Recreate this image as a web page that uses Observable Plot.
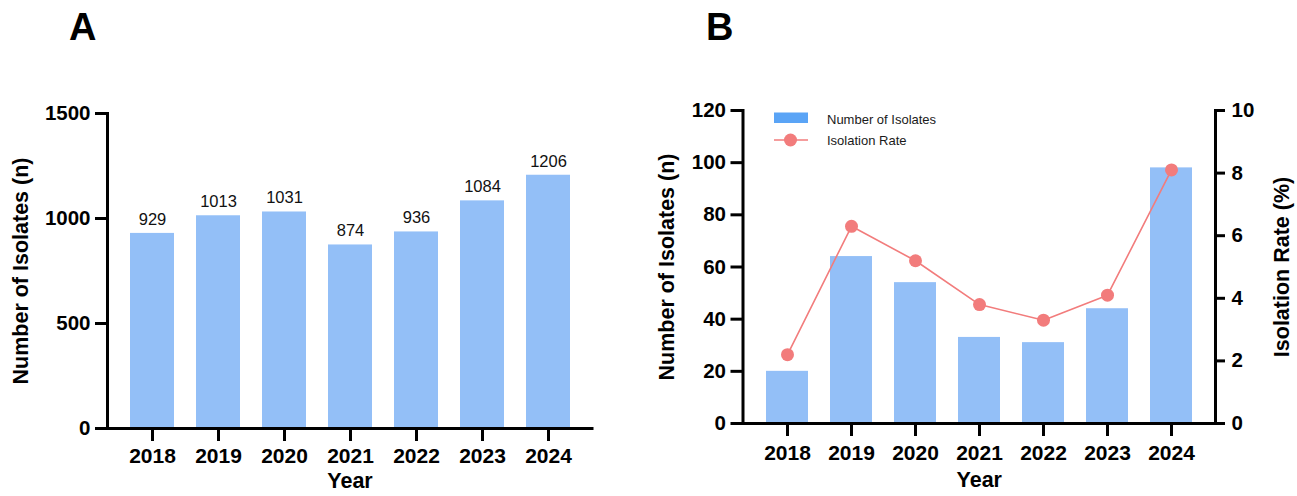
<!DOCTYPE html>
<html>
<head>
<meta charset="utf-8">
<script src="https://cdn.jsdelivr.net/npm/d3@7"></script>
<script src="https://cdn.jsdelivr.net/npm/@observablehq/plot@0.6"></script>
<style>
  html, body { margin: 0; padding: 0; background: #fff; }
  #wrap { position: relative; width: 1297px; height: 496px; overflow: hidden;
          font-family: "Liberation Sans", Arial, Helvetica, sans-serif; background: #fff; }
  .panel { position: absolute; top: 0; }
  #overlay { position: absolute; left: 0; top: 0; pointer-events: none; }
</style>
</head>
<body>
<div id="wrap">
  <div id="pa" class="panel" style="left:0px"></div>
  <div id="pb" class="panel" style="left:648px"></div>
  <svg id="overlay" width="1297" height="496" font-family="Liberation Sans, Arial, sans-serif">
    <text x="69" y="40" font-size="38" font-weight="bold" fill="#000">A</text>
    <text x="706" y="40" font-size="38" font-weight="bold" fill="#000">B</text>
    <g id="legend"></g>
  </svg>
</div>
<script>
// ---- data ----
const years = ["2018", "2019", "2020", "2021", "2022", "2023", "2024"];
const isolatesTotal = [929, 1013, 1031, 874, 936, 1084, 1206];
const isolatesB = [20, 64, 54, 33, 31, 44, 98];
const isolationRate = [2.2, 6.3, 5.2, 3.8, 3.3, 4.1, 8.1];
const yTicksA = [0, 500, 1000, 1500];
const yTicksB = [0, 20, 40, 60, 80, 100, 120];
const rateTicks = [0, 2, 4, 6, 8, 10];
const legendLabels = ["Number of Isolates", "Isolation Rate"];

const FONT = "Liberation Sans, Arial, Helvetica, sans-serif";
const BAR = "#93bff7";
const LEGEND_BAR = "#5aa4f6";
const LINE = "#f27c7c";

const dataA = years.map((y, i) => ({year: y, n: isolatesTotal[i]}));
const dataB = years.map((y, i) => ({year: y, n: isolatesB[i], rate: isolationRate[i]}));

// ---- Panel A ----
const plotA = Plot.plot({
  width: 648, height: 496,
  marginLeft: 107, marginRight: 56, marginTop: 113, marginBottom: 68,
  style: {fontFamily: FONT, background: "transparent", color: "#000", overflow: "visible"},
  x: {domain: years, padding: 0.34, label: null},
  y: {domain: [0, 1500], label: null},
  marks: [
    Plot.barY(dataA, {x: "year", y: "n", fill: BAR}),
    Plot.text(dataA, {x: "year", y: "n", text: d => String(d.n), dy: -14, fontSize: 16.5, fill: "#111"}),
    Plot.ruleY([0], {stroke: "#000", strokeWidth: 3, strokeLinecap: "square"}),
    Plot.frame({anchor: "left", stroke: "#000", strokeWidth: 3}),
    Plot.axisY({ticks: yTicksA, tickFormat: d => String(d), tickSize: 12, tickPadding: 5,
                strokeWidth: 3, fontSize: 20.5, fontWeight: "bold", label: null, color: "#000"}),
    Plot.axisX({tickSize: 13, tickPadding: 7, strokeWidth: 3, fontSize: 21, fontWeight: "bold",
                label: null, color: "#000"}),
    Plot.text(["Number of Isolates (n)"], {frameAnchor: "left", textAnchor: "middle", rotate: -90, dx: -86,
                fontSize: 21.5, fontWeight: "bold", fill: "#000"}),
    Plot.text(["Year"], {frameAnchor: "bottom", dy: 59, fontSize: 21.5, fontWeight: "bold", fill: "#000"})
  ]
});
document.getElementById("pa").appendChild(plotA);

// ---- Panel B ----
const k = 120 / 10; // right axis (0–10 %) mapped onto left scale (0–120)
const plotB = Plot.plot({
  width: 649, height: 496,
  marginLeft: 94.5, marginRight: 82, marginTop: 110, marginBottom: 73,
  style: {fontFamily: FONT, background: "transparent", color: "#000", overflow: "visible"},
  x: {domain: years, padding: 0.34, label: null},
  y: {domain: [0, 120], label: null},
  marks: [
    Plot.barY(dataB, {x: "year", y: "n", fill: BAR}),
    Plot.line(dataB, {x: "year", y: d => d.rate * k, stroke: LINE, strokeWidth: 1.6}),
    Plot.dot(dataB, {x: "year", y: d => d.rate * k, r: 6.5, fill: LINE, stroke: "none"}),
    Plot.ruleY([0], {stroke: "#000", strokeWidth: 3, strokeLinecap: "square"}),
    Plot.frame({anchor: "left", stroke: "#000", strokeWidth: 3}),
    Plot.frame({anchor: "right", stroke: "#000", strokeWidth: 3}),
    Plot.axisY({anchor: "left", ticks: yTicksB, tickFormat: d => String(d), tickSize: 12, tickPadding: 5,
                strokeWidth: 3, fontSize: 20.5, fontWeight: "bold", label: null, color: "#000"}),
    Plot.axisY({anchor: "right", ticks: rateTicks.map(t => t * k), tickFormat: d => String(Math.round(d / k)),
                tickSize: 9, tickPadding: 7, strokeWidth: 3, fontSize: 20.5, fontWeight: "bold",
                label: null, color: "#000"}),
    Plot.axisX({tickSize: 13, tickPadding: 9, strokeWidth: 3, fontSize: 21, fontWeight: "bold",
                label: null, color: "#000"}),
    Plot.text(["Number of Isolates (n)"], {frameAnchor: "left", textAnchor: "middle", rotate: -90, dx: -76,
                fontSize: 21.5, fontWeight: "bold", fill: "#000"}),
    Plot.text(["Isolation Rate (%)"], {frameAnchor: "right", textAnchor: "middle", rotate: -90, dx: 67,
                fontSize: 21.5, fontWeight: "bold", fill: "#000"}),
    Plot.text(["Year"], {frameAnchor: "bottom", dy: 63.5, fontSize: 21.5, fontWeight: "bold", fill: "#000"})
  ]
});
document.getElementById("pb").appendChild(plotB);

// ---- Legend (panel B) ----
const lg = d3.select("#legend");
lg.append("rect").attr("x", 774).attr("y", 112.5).attr("width", 34).attr("height", 10.5).attr("fill", LEGEND_BAR);
lg.append("line").attr("x1", 774).attr("x2", 808).attr("y1", 140).attr("y2", 140)
  .attr("stroke", LINE).attr("stroke-width", 1.6);
lg.append("circle").attr("cx", 790.5).attr("cy", 140).attr("r", 6.5).attr("fill", LINE);
legendLabels.forEach((t, i) => {
  lg.append("text").attr("x", 827).attr("y", i === 0 ? 119 : 140).attr("dy", "0.35em")
    .attr("font-size", 13).attr("fill", "#1a1a1a").text(t);
});
</script>
</body>
</html>
